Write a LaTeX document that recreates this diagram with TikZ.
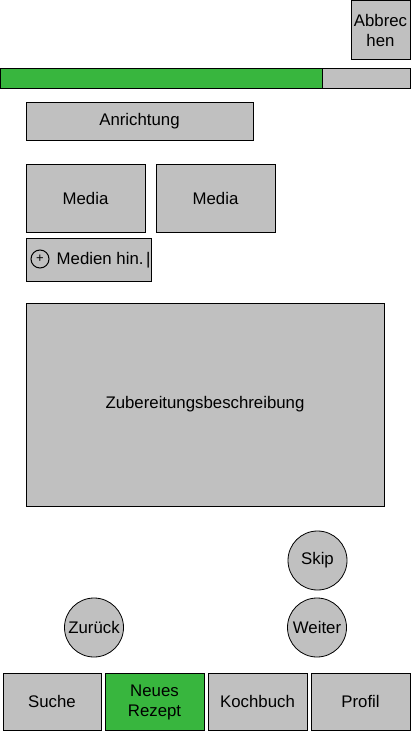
\documentclass[tikz,border=0pt]{standalone}
\usepackage{fontspec}
\setmainfont{Liberation Sans}
\definecolor{uigray}{RGB}{192,192,192}
\definecolor{uigreen}{RGB}{56,182,62}
\begin{document}
\begin{tikzpicture}[x=1pt,y=-1pt,
  box/.style={draw=black,line width=1pt,fill=uigray,inner sep=0pt,font=\fontsize{16.8}{20}\selectfont,align=center},
  gbox/.style={box,fill=uigreen},
  btn/.style={draw=black,line width=0.8pt,fill=uigray,circle,inner sep=0pt,minimum size=59pt,font=\fontsize{16.8}{20}\selectfont}]
\useasboundingbox (0,0) rectangle (411,731);
\fill[white] (0,0) rectangle (411,731);
% Abbrechen
\node[box,minimum width=59pt,minimum height=59pt] (abb) at (380.5,30) {Abbrec\\hen};
% progress bar
\node[box,minimum width=410pt,minimum height=20pt] (bar) at (205.5,78) {};
\node[gbox,minimum width=322pt,minimum height=20pt] (prog) at (161.5,78) {};
% Anrichtung
\node[box,minimum width=227pt,minimum height=38pt] (anr) at (139.5,121.5) {Anrichtung};
% Media
\node[box,minimum width=119pt,minimum height=68pt] (m1) at (85.5,198.5) {Media};
\node[box,minimum width=119pt,minimum height=68pt] (m2) at (215.5,198.5) {Media};
% Medien hin.
\node[box,minimum width=125pt,minimum height=43pt] (mh) at (88.5,259.5) {};
\begin{scope}
\clip (27,239) rectangle (150.5,281);
\node[anchor=west,inner sep=0pt,font=\fontsize{16.8}{20}\selectfont] (mht) at (56.5,260.5) {Medien hin.\kern2.5pt|};
\end{scope}
\node[circle,draw=black,line width=1pt,minimum size=18pt,inner sep=0pt,font=\fontsize{13}{14}\selectfont] (plus) at (40,259) {+};
% Zubereitung
\node[box,minimum width=358pt,minimum height=203pt] (zub) at (205,404.5) {Zubereitungsbeschreibung};
% round buttons
\node[btn] (skip) at (317.5,560.5) {Skip};
\node[btn] (weiter) at (317,627.5) {Weiter};
\node[btn] (zur) at (94,627.5) {Zurück};
% bottom bar
\node[box,minimum width=98pt,minimum height=57pt] (suche) at (52,701.5) {Suche};
\node[gbox,minimum width=99pt,minimum height=57pt] (neu) at (154.5,702) {Neues\\Rezept};
\node[box,minimum width=99pt,minimum height=57pt] (koch) at (257.5,701.5) {Kochbuch};
\node[box,minimum width=99pt,minimum height=57pt] (prof) at (360.5,701.5) {Profil};
\end{tikzpicture}
\end{document}
